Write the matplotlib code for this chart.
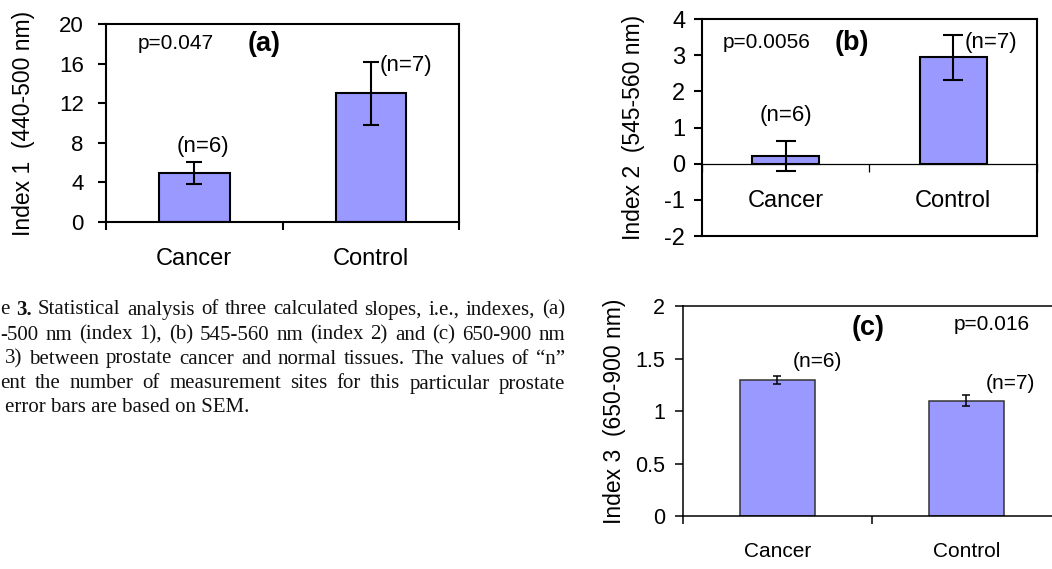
import matplotlib.pyplot as plt
import numpy as np

plt.rcParams['font.family'] = ['Liberation Sans', 'DejaVu Sans']
plt.rcParams['axes.unicode_minus'] = False

groups = ['Cancer', 'Control']
n_labels = ['(n=6)', '(n=7)']

# index 1 (440-500 nm)
idx1_mean = [4.95, 13.0]
idx1_sem = [1.08, 3.2]
idx1_ticks = [0, 4, 8, 12, 16, 20]
idx1_p = 'p=0.047'

# index 2 (545-560 nm)
idx2_mean = [0.22, 2.94]
idx2_sem = [0.42, 0.63]
idx2_ticks = [-2, -1, 0, 1, 2, 3, 4]
idx2_p = 'p=0.0056'

# index 3 (650-900 nm)
idx3_mean = [1.295, 1.10]
idx3_sem = [0.036, 0.05]
idx3_ticks = [0, 0.5, 1, 1.5, 2]
idx3_ticklabels = ['0', '0.5', '1', '1.5', '2']
idx3_p = 'p=0.016'

caption = [
    [('e', 'normal'), ('3.', 'bold'), ('Statistical', 'normal'), ('analysis', 'normal'),
     ('of', 'normal'), ('three', 'normal'), ('calculated', 'normal'), ('slopes,', 'normal'),
     ('i.e.,', 'normal'), ('indexes,', 'normal'), ('(a)', 'normal')],
    [(w, 'normal') for w in '-500 nm (index 1), (b) 545-560 nm (index 2) and (c) 650-900 nm'.split()],
    [(w, 'normal') for w in '3) between prostate cancer and normal tissues. The values of \u201cn\u201d'.split()],
    [(w, 'normal') for w in 'ent the number of measurement sites for this particular prostate'.split()],
]
caption_last = 'error bars are based on SEM.'

BAR = '#9999ff'

fig = plt.figure(figsize=(10.52, 5.69), dpi=100)


def bar_panel(rect, means, sems, ticks, ticklabels, ylabel, lw, capsize, edge,
              cat_size, tick_size, tick_pad, label_x):
    ax = fig.add_axes(rect)
    x = np.arange(len(groups))
    ax.bar(x, means, width=0.4, color=BAR, edgecolor=edge, linewidth=lw, zorder=2)
    ax.errorbar(x, means, yerr=sems, fmt='none', ecolor='k', elinewidth=lw,
                capsize=capsize, capthick=lw, zorder=3)
    ax.set_xlim(-0.5, 1.5)
    ax.set_ylim(ticks[0], ticks[-1])
    ax.set_yticks(ticks)
    ax.set_yticklabels(ticklabels)
    ax.set_xticks(x)
    ax.set_xticklabels(groups)
    ax.set_xticks([-0.5, 0.5, 1.5], minor=True)
    ax.tick_params(axis='x', which='major', length=0, pad=19, labelsize=cat_size)
    ax.tick_params(axis='x', which='minor', length=6, width=lw, direction='out')
    ax.tick_params(axis='y', length=6, width=lw, labelsize=tick_size, pad=tick_pad)
    ax.set_ylabel(ylabel, fontsize=16.5)
    ax.yaxis.set_label_coords(label_x, 0.5)
    for s in ax.spines.values():
        s.set_linewidth(lw)
    return ax


# (a)
ax1 = bar_panel([0.1008, 0.6098, 0.3356, 0.348], idx1_mean, idx1_sem, idx1_ticks,
                [str(t) for t in idx1_ticks], 'Index 1  (440-500 nm)', 1.5, 6, 'k',
                17, 16, 10, -0.20)
ax1.text(-0.32, 18.0, idx1_p, fontsize=15, va='center')
ax1.text(0.30, 18.0, '(a)', fontsize=19.5, weight='bold', va='center')
ax1.text(0.05, 7.6, n_labels[0], fontsize=16, ha='center', va='center')
ax1.text(1.05, 15.8, n_labels[1], fontsize=16, va='center')

# (b)
ax2 = bar_panel([0.6673, 0.5852, 0.3184, 0.3814], idx2_mean, idx2_sem, idx2_ticks,
                [str(t) for t in idx2_ticks], 'Index 2  (545-560 nm)', 1.5, 7, 'k',
                17, 17, 6, -0.17)
ax2.spines['bottom'].set_position(('data', 0))
ax2.spines['bottom'].set_linewidth(0.9)
ax2.tick_params(axis='x', which='minor', width=0.9)
ax2.axhline(idx2_ticks[0], color='k', lw=1.5, clip_on=False)
ax2.text(-0.375, 3.34, idx2_p, fontsize=15, va='center')
ax2.text(0.29, 3.34, '(b)', fontsize=19.5, weight='bold', va='center')
ax2.text(0.0, 1.33, n_labels[0], fontsize=16, ha='center', va='center')
ax2.text(1.07, 3.34, n_labels[1], fontsize=16, va='center')

# (c)
ax3 = bar_panel([0.6492, 0.0931, 0.3593, 0.369], idx3_mean, idx3_sem, idx3_ticks,
                idx3_ticklabels, 'Index 3  (650-900 nm)', 1.1, 3, '#333333',
                15, 15.5, 7, -0.15)
ax3.text(0.39, 1.79, '(c)', fontsize=19.5, weight='bold', va='center')
ax3.text(0.93, 1.82, idx3_p, fontsize=15, va='center')
ax3.text(0.08, 1.47, n_labels[0], fontsize=15, va='center')
ax3.text(1.10, 1.26, n_labels[1], fontsize=15, va='center')

# caption, justified between the left border and x=565 px
W, H = fig.bbox.width, fig.bbox.height
renderer = fig.canvas.get_renderer()
line_y = [310, 335, 359, 384, 408]
starts = [0, 0, 5, 0, 5]
right = 565
for words, y, x0 in zip(caption, line_y, starts):
    texts = [fig.text(0, 1 - y / H, w, fontsize=15, family='Liberation Serif',
                      weight=wt, va='center', color='#111111') for w, wt in words]
    widths = [t.get_window_extent(renderer).width for t in texts]
    gap = (right - x0 - sum(widths)) / (len(texts) - 1)
    xpos = x0
    for t, wd in zip(texts, widths):
        t.set_x(xpos / W)
        xpos += wd + gap
fig.text(starts[-1] / W, 1 - line_y[-1] / H, caption_last, fontsize=15,
         family='Liberation Serif', va='center', color='#111111')

fig.savefig('out.png', dpi=100)
